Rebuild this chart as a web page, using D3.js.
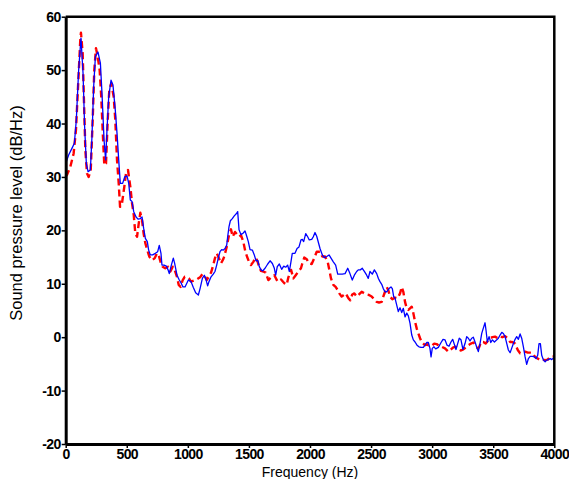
<!DOCTYPE html>
<html><head><meta charset="utf-8">
<script src="https://cdn.jsdelivr.net/npm/d3@7"></script>
<style>body{margin:0;background:#fff}svg{display:block}</style>
</head><body>
<svg id="c" width="569" height="479"></svg>
<script>
const xTicks = [0,500,1000,1500,2000,2500,3000,3500,4000];
const yTicks = [-20,-10,0,10,20,30,40,50,60];

const blueFreq = [0,24,52,71,87,106,125,142,155,169,183,202,215,229,243,264,284,297,314,327,338,352,371,387,406,420,434,447,466,483,502,516,529,543,557,576,592,611,625,638,652,668,679,693,712,734,753,766,780,788,805,824,838,848,865,881,892,911,930,946,960,
977,1004,1026,1045,1064,1086,1100,1119,1135,1146,1162,1173,1190,1208,1222,1236,1249,1263,1277,1290,1304,1318,1326,1337,1348,1364,1380,1400,1408,1419,1435,1454,1468,1482,1495,1509,1528,1544,1558,1572,1585,1599,1613,1632,1654,1673,1692,1708,1719,1732,1749,1768,1785,1801,1817,1831,1844,1855,1877,1894,1910,1926,1937,1948,1965,1981,1994,2014,2027,2041,2055,
2082,2101,2117,2137,2156,2172,2191,2210,2227,2246,2264,2287,2309,2327,2346,2363,2382,2395,2412,2428,2445,2464,2477,2491,2510,2527,2546,2560,2573,2587,2600,2614,2628,2647,2663,2674,2685,2696,2710,2723,2737,2751,2764,2778,2792,2805,2819,2833,2846,2860,2876,2892,2909,2928,2941,2955,2969,2982,2991,3001,3015,3029,
3051,3073,3089,3105,3122,3138,3154,3168,3181,3195,3209,3222,3236,3252,3269,3283,3296,3310,3324,3337,3351,3365,3378,3392,3406,3419,3433,3441,3452,3466,3480,3493,3510,3529,3542,3556,3570,3583,3597,3611,3624,3638,3651,3665,3679,3692,3706,3720,3733,3747,3761,3774,3788,3802,3821,3837,3851,3864,3875,3886,3897,3911,3925,3938,3952,3966,3979,3993,4000];
const blueLevel = [32.5,34.1,35.4,36.3,40.7,50,56,49.4,39.4,32.5,31,31.3,37.5,46.9,52.5,53.4,51.3,45.7,36.9,33.2,38.8,45,48.1,47.2,42.5,38.2,33.2,28.8,28.8,30,30.2,28.8,25.7,25.4,23.5,22.5,22.1,22.2,22.5,20.4,18.5,17.9,16.3,15.4,15.4,15.7,16,17.2,15.7,13.5,13.5,13.3,12.6,11.9,13.5,14.8,13.8,11.6,10.7,10.1,9.4,
9.4,10.7,10.4,9.3,8.3,7.9,9.1,11,11.6,11,9.6,10.4,11.3,11.8,12.3,13.5,14.8,16,16.4,16.3,16.6,17.2,18.8,20.7,21.8,22.2,22.7,23.2,23.5,20.1,19.2,19.5,19.9,18.9,17.9,16.4,16.3,15.4,14.3,14.4,13.2,12.6,12.4,12.9,13.7,14.3,13.8,12.9,11.6,13.2,13.7,12.7,13.3,13.1,13.5,12.3,14.1,15.7,15.7,16.6,16.9,18.2,18.3,17.9,19.4,18.8,18.2,18.3,18.8,19.6,18.9,
16.6,15.4,14.9,15.1,15.4,14.8,14.1,13.5,11.8,11.8,11.8,11.9,12.9,11.9,10.7,11.6,12.3,12.6,12.6,12.9,12.3,11.6,11,12.3,11.8,12.6,11.9,11,10.4,9.9,9.1,8.5,8.5,9.1,9.4,9.1,7.6,7.3,6,4.8,5.5,4.6,5.4,3.8,4.5,4,2.6,0.4,-0.5,-0.9,-1.5,-1.8,-1.9,-1.9,-1.5,-1,-1,-2.1,-3.7,-2.1,-1.8,-2.2,
-1.9,-1,-0.4,-0.5,-1.5,-1.7,-0.9,-0.4,-1.3,-2.3,-1.2,-0.2,-0.5,-2.3,-1.2,0.1,-0.2,-0.7,-0.2,0,-0.9,-1.9,-2.7,-1.2,0.7,1.7,2.7,1.3,-0.9,0.1,-1,-0.5,-0.9,-0.5,-0.2,0.4,0.9,0.7,0.1,-1.2,-2.4,-2.9,-2.1,-1.2,-0.4,0.1,-0.4,0.6,-0.2,-1.8,-3.7,-5.1,-4,-3.6,-3.6,-3.7,-4,-3.4,-1.2,-1.2,-3.4,-4.3,-4.6,-4.3,-4.2,-4,-4.2,-3.9,-3.9];

const redFreq = [0,11,38,65,84,101,120,125,139,150,161,174,188,205,221,234,248,262,278,291,305,316,330,344,357,373,393,406,420,434,445,461,480,494,510,529,543,557,570,584,598,611,625,638,652,668,684,707,729,747,761,780,794,815,838,857,876,892,911,925,941,958,974,
990,1009,1026,1072,1100,1119,1135,1154,1173,1190,1208,1222,1236,1249,1271,1290,1298,1318,1337,1353,1367,1386,1408,1421,1435,1454,1468,1484,1501,1517,1536,1555,1572,1583,1599,1618,1637,1659,1681,1708,1735,1763,1790,1809,1823,1845,1864,1883,1905,1926,1937,1953,1973,1992,2014,2035,2055,
2082,2101,2123,2145,2158,2172,2191,2210,2227,2240,2259,2276,2292,2314,2330,2346,2363,2382,2401,2423,2445,2464,2483,2505,2527,2546,2565,2587,2600,2614,2628,2641,2655,2674,2696,2718,2737,2751,2764,2778,2792,2805,2819,2833,2846,2860,2874,2887,2901,2914,2928,2941,2955,2969,2982,2996,3017,3037,
3051,3078,3105,3132,3154,3173,3193,3214,3236,3255,3275,3296,3318,3337,3357,3373,3386,3400,3419,3438,3455,3474,3493,3515,3537,3556,3575,3597,3619,3638,3656,3679,3701,3720,3738,3761,3783,3802,3821,3843,3864,3883,3902,3925,3946,3966,3985,4000];
const redLevel = [30.1,30.4,31.9,34.4,38.8,46.9,55.9,57,53.1,43.8,35,30.7,30,31.3,40.7,50,54.1,52.5,50,45,37.5,32.2,32.5,40.7,46.3,47.5,45,40.7,33.2,28.8,24.4,25.1,28.2,30.7,31.3,28.2,25.1,22.9,19.4,18.8,21.3,23.3,21.9,19.4,17.6,16.3,15.1,14.4,14.8,15.7,15.4,13.8,13.2,12.9,13.2,12.3,13.2,12.6,11.3,9.8,9.4,10.7,11.3,
11.3,11,10.4,10.8,11.2,11.8,11.6,10.7,11.4,12.1,13.5,14.8,15.7,15.1,13.8,14.6,15.1,16.9,19.1,20.2,18.8,19.7,19.1,18.8,19.1,17.9,16.3,15.1,14.1,13.5,14.1,14.9,14.1,13.2,12.4,12.3,12.1,10.7,11.2,11.6,10.4,10.8,10.1,9.8,11.2,12.6,11,11.6,12.3,12.9,13.8,14.9,14.6,13.8,13.7,14.8,16,
16,15.1,15.1,14.1,12.6,11,9.8,9.4,8.8,8.2,7.6,7.9,8.2,7.3,6.9,8,8.2,7.6,8,8.5,8.2,8,7.9,7.6,7.1,6.6,6.5,6.6,7.6,8.5,9.4,8.8,7.6,7.1,7.4,7.3,8.2,9.4,8.5,6.6,5.4,5.1,5.4,5.7,4.5,2.9,1.6,0.7,-0.2,-0.9,-1.2,-1.5,-1.3,-1.5,-1.5,-1.6,-1.2,-1.3,
-1.5,-1.8,-2.1,-2.7,-2.3,-1.9,-1.8,-2.3,-2.5,-2.3,-1.9,-1.5,-1.2,-1,-1.5,-2.1,-1.8,-0.9,-0.9,-1.2,-0.7,-0.2,0,0.1,-0.2,0.1,0,0.2,-0.2,-0.9,-0.9,-1.2,-2.4,-3,-2.9,-2.7,-2.9,-2.9,-3,-3.7,-4,-4.3,-4.2,-4.3,-4.2,-3.7,-3.6,-3.6];

const svg = d3.select('#c');
const L = 65.7, R = 554.3, T = 16.7, B = 444;
const x = d3.scaleLinear().domain([0,4000]).range([L,R]);
const y = d3.scaleLinear().domain([-20,60]).range([B,T]);

const line = d3.line().x(d=>x(d[0])).y(d=>y(d[1]));
const red = redFreq.map((f,i)=>[f,redLevel[i]]);
const blue = blueFreq.map((f,i)=>[f,blueLevel[i]]);

svg.append('path').datum(red).attr('d',line).attr('fill','none')
  .attr('stroke','#ff0000').attr('stroke-width',2.4).attr('stroke-dasharray','7,4')
  .attr('stroke-linejoin','round');
svg.append('path').datum(blue).attr('d',line).attr('fill','none')
  .attr('stroke','#0000ff').attr('stroke-width',1.3).attr('stroke-linejoin','round');

// frame (top/right)
svg.append('path').attr('d',`M${L},${T}H${R}V${B}`).attr('fill','none')
  .attr('stroke','#000').attr('stroke-width',2.5);

const font = 'Liberation Sans, Arial, sans-serif';
const fmt = d => String(d);
const yAxis = svg.append('g').attr('transform',`translate(${L},0)`)
  .call(d3.axisLeft(y).tickValues(yTicks).tickFormat(fmt).tickSize(4).tickSizeOuter(0).tickPadding(1));
const xAxis = svg.append('g').attr('transform',`translate(0,${B})`)
  .call(d3.axisBottom(x).tickValues(xTicks).tickFormat(fmt).tickSize(4).tickSizeOuter(0).tickPadding(1));
[yAxis,xAxis].forEach(a=>{
  a.select('.domain').attr('stroke','#000').attr('stroke-width',3);
  a.selectAll('.tick line').attr('stroke','#000').attr('stroke-width',1.5);
  a.selectAll('.tick text').attr('fill','#000').style('font-family',font)
    .style('font-size','14px').style('font-weight','bold').style('letter-spacing','-0.6px');
});

svg.append('text').attr('x',310).attr('y',477).attr('text-anchor','middle')
  .style('font-family',font).style('font-size','14px').text('Frequency (Hz)');
svg.append('text').attr('transform','translate(22,213) rotate(-90)').attr('text-anchor','middle')
  .style('font-family',font).style('font-size','16.5px').text('Sound pressure level (dB/Hz)');
</script>
</body></html>
